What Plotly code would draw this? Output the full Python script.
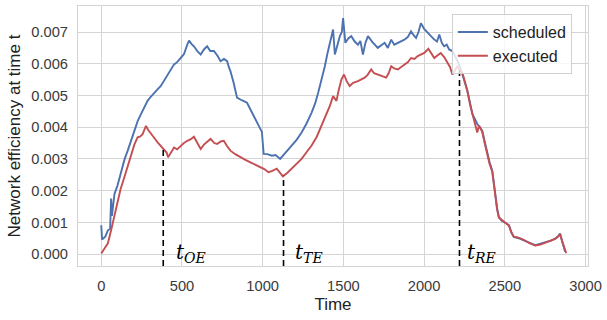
import numpy as np
import plotly.graph_objects as go

# Scheduled network efficiency over time
sched_t = [0, 5, 25, 41, 55, 61, 66, 82, 100, 123, 145, 164, 185, 205, 225, 246, 265, 287, 305, 328,
           350, 369, 390, 410, 430, 451, 470, 492, 512, 533, 544, 560, 574, 595, 616, 636, 656, 675, 698, 720,
           739, 760, 780, 790, 800, 820, 841, 870, 903, 925, 944, 965, 985, 995, 1006, 1030, 1057, 1080, 1108, 1140,
           1180, 1210, 1241, 1270, 1303, 1325, 1344, 1365, 1385, 1400, 1416, 1436, 1447, 1462, 1478, 1490, 1498, 1512, 1530, 1549,
           1570, 1590, 1605, 1621, 1636, 1652, 1680, 1713, 1735, 1755, 1775, 1796, 1815, 1837, 1858, 1878, 1900, 1919, 1935, 1950,
           1965, 1980, 2000, 2022, 2040, 2063, 2080, 2094, 2110, 2124, 2140, 2155, 2175, 2195, 2217, 2237, 2252, 2268, 2285, 2299,
           2315, 2329, 2345, 2360, 2375, 2391, 2405, 2422, 2432, 2442, 2452, 2463, 2480, 2494, 2510, 2525, 2540, 2555, 2585, 2617,
           2650, 2688, 2720, 2760, 2790, 2812, 2830, 2842, 2855, 2873]
sched_v = [0.00091, 0.00046, 0.00055, 0.00075, 0.00080, 0.00175, 0.00120, 0.00190, 0.00215, 0.00263, 0.00300, 0.00326, 0.00360, 0.00389, 0.00418, 0.00441, 0.00462, 0.00483, 0.00495, 0.00509,
           0.00520, 0.00530, 0.00548, 0.00566, 0.00580, 0.00598, 0.00605, 0.00618, 0.00630, 0.00660, 0.00673, 0.00662, 0.00655, 0.00640, 0.00629, 0.00645, 0.00655, 0.00640, 0.00640, 0.00625,
           0.00608, 0.00615, 0.00608, 0.00590, 0.00577, 0.00540, 0.00493, 0.00485, 0.00477, 0.00455, 0.00436, 0.00420, 0.00399, 0.00385, 0.00316, 0.00315, 0.00310, 0.00312, 0.00300, 0.00318,
           0.00342, 0.00360, 0.00383, 0.00410, 0.00446, 0.00475, 0.00509, 0.00550, 0.00592, 0.00630, 0.00666, 0.00708, 0.00629, 0.00660, 0.00687, 0.00700, 0.00744, 0.00666, 0.00680, 0.00687,
           0.00670, 0.00660, 0.00672, 0.00629, 0.00665, 0.00687, 0.00668, 0.00650, 0.00660, 0.00666, 0.00650, 0.00676, 0.00660, 0.00666, 0.00670, 0.00676, 0.00685, 0.00702, 0.00690, 0.00681,
           0.00700, 0.00728, 0.00710, 0.00697, 0.00690, 0.00676, 0.00670, 0.00692, 0.00665, 0.00655, 0.00660, 0.00645, 0.00640, 0.00620, 0.00598, 0.00566, 0.00540, 0.00514, 0.00475, 0.00441,
           0.00425, 0.00410, 0.00400, 0.00389, 0.00355, 0.00316, 0.00290, 0.00263, 0.00220, 0.00180, 0.00145, 0.00117, 0.00105, 0.00101, 0.00095, 0.00091, 0.00070, 0.00054, 0.00050, 0.00044,
           0.00036, 0.00028, 0.00032, 0.00039, 0.00043, 0.00049, 0.00056, 0.00065, 0.00040, 0.00007]

# Executed network efficiency over time
exec_t = [0, 20, 41, 61, 80, 102, 120, 143, 165, 185, 205, 225, 240, 256, 265, 277, 290, 308, 330, 349,
          370, 390, 405, 414, 430, 451, 470, 492, 512, 533, 555, 574, 590, 616, 636, 660, 677, 700, 718, 740,
          759, 780, 800, 830, 862, 890, 924, 955, 985, 1010, 1036, 1060, 1087, 1105, 1125, 1150, 1180, 1210, 1241, 1270,
          1303, 1335, 1365, 1390, 1416, 1436, 1447, 1457, 1470, 1488, 1504, 1520, 1539, 1560, 1590, 1610, 1632, 1650, 1672, 1690,
          1713, 1740, 1765, 1780, 1796, 1815, 1837, 1858, 1878, 1900, 1919, 1940, 1960, 1980, 2001, 2026, 2045, 2063, 2080, 2103,
          2125, 2145, 2160, 2175, 2190, 2206, 2222, 2237, 2252, 2268, 2285, 2299, 2315, 2329, 2340, 2360, 2375, 2391, 2405, 2422,
          2432, 2442, 2452, 2463, 2480, 2494, 2510, 2525, 2540, 2555, 2585, 2617, 2650, 2688, 2720, 2760, 2790, 2812, 2830, 2842,
          2855, 2880]
exec_v = [0.00002, 0.00018, 0.00034, 0.00075, 0.00118, 0.00169, 0.00205, 0.00242, 0.00280, 0.00316, 0.00345, 0.00368, 0.00370, 0.00378, 0.00392, 0.00404, 0.00392, 0.00378, 0.00365, 0.00352,
          0.00340, 0.00331, 0.00320, 0.00305, 0.00320, 0.00336, 0.00330, 0.00342, 0.00350, 0.00357, 0.00362, 0.00370, 0.00355, 0.00331, 0.00345, 0.00355, 0.00363, 0.00350, 0.00347, 0.00355,
          0.00357, 0.00340, 0.00326, 0.00315, 0.00305, 0.00298, 0.00289, 0.00282, 0.00274, 0.00268, 0.00258, 0.00262, 0.00269, 0.00258, 0.00245, 0.00255, 0.00269, 0.00285, 0.00300, 0.00320,
          0.00342, 0.00370, 0.00404, 0.00435, 0.00467, 0.00498, 0.00490, 0.00483, 0.00515, 0.00551, 0.00566, 0.00545, 0.00530, 0.00540, 0.00545, 0.00550, 0.00556, 0.00565, 0.00582, 0.00570,
          0.00566, 0.00560, 0.00556, 0.00570, 0.00592, 0.00585, 0.00582, 0.00590, 0.00598, 0.00605, 0.00618, 0.00615, 0.00624, 0.00628, 0.00634, 0.00647, 0.00630, 0.00618, 0.00625, 0.00634,
          0.00620, 0.00603, 0.00590, 0.00566, 0.00580, 0.00592, 0.00580, 0.00571, 0.00545, 0.00514, 0.00470, 0.00445, 0.00415, 0.00383, 0.00405, 0.00385, 0.00350, 0.00316, 0.00285, 0.00260,
          0.00215, 0.00178, 0.00140, 0.00115, 0.00108, 0.00103, 0.00097, 0.00090, 0.00068, 0.00055, 0.00052, 0.00045, 0.00035, 0.00027, 0.00030, 0.00038, 0.00042, 0.00048, 0.00055, 0.00063,
          0.00040, 0.00003]

# Event markers
event_t = [384, 1129, 2219]
event_labels = ["OE", "TE", "RE"]
label_x = [450, 1188, 2250]

BLUE = "#4C72B0"
RED = "#C44E52"
GRID = "#d4d4d4"
TEXT = "#3a3a3a"

fig = go.Figure()
fig.add_trace(go.Scatter(x=sched_t, y=sched_v, mode="lines", name="scheduled",
                         line=dict(color=BLUE, width=1.9)))
fig.add_trace(go.Scatter(x=exec_t, y=exec_v, mode="lines", name="executed",
                         line=dict(color=RED, width=1.9)))

y_lo = -0.000376
for t, lab, lx in zip(event_t, event_labels, label_x):
    top = float(np.interp(t, exec_t, exec_v))
    fig.add_shape(type="line", xref="x", yref="y", x0=t, x1=t, y0=y_lo, y1=top,
                  line=dict(color="black", width=1.6, dash="6px,4px"))
    fig.add_annotation(x=lx, y=0.00004, xref="x", yref="y", xanchor="left", yanchor="middle",
                       showarrow=False,
                       text=f"<i>t</i><sub><i>{lab}</i></sub>",
                       font=dict(family="DejaVu Serif", size=20, color="black"))

axis_common = dict(showgrid=True, gridcolor=GRID, gridwidth=1, showline=True, linecolor=GRID,
                   linewidth=1, mirror=True, zeroline=False, ticks="outside", ticklen=6,
                   tickcolor="rgba(0,0,0,0)", tickfont=dict(size=14.7, color=TEXT))

fig.update_xaxes(range=[-144, 3015], tickvals=[0, 500, 1000, 1500, 2000, 2500, 3000],
                 title=dict(text="Time", font=dict(size=17, color="#222"), standoff=5),
                 **axis_common)
fig.update_yaxes(range=[y_lo, 0.00782],
                 tickvals=[0, 0.001, 0.002, 0.003, 0.004, 0.005, 0.006, 0.007],
                 tickformat=".3f",
                 title=dict(text="Network efficiency at time t", font=dict(size=17, color="#222"), standoff=6),
                 **axis_common)

fig.update_layout(
    width=607, height=320,
    margin=dict(l=78, r=14, t=5, b=54),
    plot_bgcolor="white", paper_bgcolor="white",
    font=dict(family="Liberation Sans, Arial, sans-serif"),
    legend=dict(x=0.733, y=0.969, xanchor="left", yanchor="top",
                bgcolor="rgba(255,255,255,0.8)", bordercolor="#d0d0d0", borderwidth=1,
                font=dict(size=16, color="#222"), tracegroupgap=2),
    showlegend=True,
)

fig.write_html("out.html")
